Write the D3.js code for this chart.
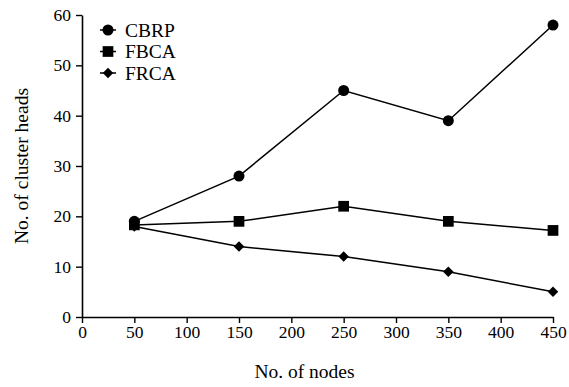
<!DOCTYPE html>
<html>
<head>
<meta charset="utf-8">
<script src="https://cdn.jsdelivr.net/npm/d3@7"></script>
<style>
  body { margin: 0; background: #fff; }
  svg { display: block; }
  text { font-family: "Liberation Serif", "Times New Roman", serif; fill: #000; }
</style>
</head>
<body>
<div id="chart"></div>
<script>
const nodes = [50, 150, 250, 350, 450];
const seriesNames = ['CBRP', 'FBCA', 'FRCA'];
const cbrp = [19, 28, 45, 39, 58];
const fbca = [18.3, 19, 22, 19, 17.2];
const frca = [18, 14, 12, 9, 5];
const xTicks = [0, 50, 100, 150, 200, 250, 300, 350, 400, 450];
const yTicks = [0, 10, 20, 30, 40, 50, 60];

const width = 569, height = 387;
const margin = { top: 15, right: 16, bottom: 70, left: 82 };
const iw = width - margin.left - margin.right;
const ih = height - margin.top - margin.bottom;
const tickFont = '17.5px';
const titleFont = '19.5px';

const svg = d3.select('#chart').append('svg')
  .attr('width', width).attr('height', height);
const g = svg.append('g').attr('transform', `translate(${margin.left},${margin.top})`);

const x = d3.scaleLinear().domain([0, 450]).range([0, iw]);
const y = d3.scaleLinear().domain([0, 60]).range([ih, 0]);

function styleAxis(sel) {
  sel.select('.domain').attr('stroke', '#000').attr('stroke-width', 1.6);
  sel.selectAll('.tick line').attr('stroke', '#000').attr('stroke-width', 1.4);
  sel.selectAll('.tick text')
    .style('font-size', tickFont)
    .style('font-family', '"Liberation Serif", "Times New Roman", serif')
    .attr('fill', '#000');
}

g.append('g').attr('transform', `translate(0,${ih})`)
  .call(d3.axisBottom(x).tickValues(xTicks).tickSize(6).tickSizeOuter(0).tickPadding(3))
  .call(styleAxis);
g.append('g')
  .call(d3.axisLeft(y).tickValues(yTicks).tickSize(6).tickSizeOuter(0).tickPadding(5))
  .call(styleAxis);

// Axis titles
svg.append('text')
  .attr('x', margin.left + iw / 2 - 13).attr('y', 378)
  .attr('text-anchor', 'middle').style('font-size', titleFont)
  .text('No. of nodes');
svg.append('text')
  .attr('transform', `translate(28,${margin.top + ih / 2}) rotate(-90)`)
  .attr('text-anchor', 'middle').style('font-size', titleFont)
  .text('No. of cluster heads');

const diamond = {
  draw(ctx, size) {
    const h = Math.sqrt(size) / Math.SQRT2;
    ctx.moveTo(0, -h); ctx.lineTo(h, 0); ctx.lineTo(0, h); ctx.lineTo(-h, 0); ctx.closePath();
  }
};

const data = [
  { name: seriesNames[0], values: cbrp, shape: d3.symbolCircle, size: 95 },
  { name: seriesNames[1], values: fbca, shape: d3.symbolSquare, size: 115 },
  { name: seriesNames[2], values: frca, shape: diamond, size: 55 }
];

const line = d3.line().x((d, i) => x(nodes[i])).y(d => y(d));

data.forEach(s => {
  g.append('path')
    .attr('d', line(s.values))
    .attr('fill', 'none').attr('stroke', '#000').attr('stroke-width', 1.5);
  g.selectAll(null).data(s.values).enter().append('path')
    .attr('transform', (d, i) => `translate(${x(nodes[i])},${y(d)})`)
    .attr('d', d3.symbol().type(s.shape).size(s.size))
    .attr('fill', '#000');
});

// Legend
const legend = svg.append('g').attr('transform', 'translate(100,30)');
data.forEach((s, i) => {
  const item = legend.append('g').attr('transform', `translate(0,${i * 21.5})`);
  item.append('line').attr('x1', 0).attr('x2', 16).attr('stroke', '#000').attr('stroke-width', 1.5);
  item.append('path').attr('transform', 'translate(8,0)')
    .attr('d', d3.symbol().type(s.shape).size(s.size)).attr('fill', '#000');
  item.append('text').attr('x', 25).attr('y', 6.5).style('font-size', titleFont).text(s.name);
});
</script>
</body>
</html>
